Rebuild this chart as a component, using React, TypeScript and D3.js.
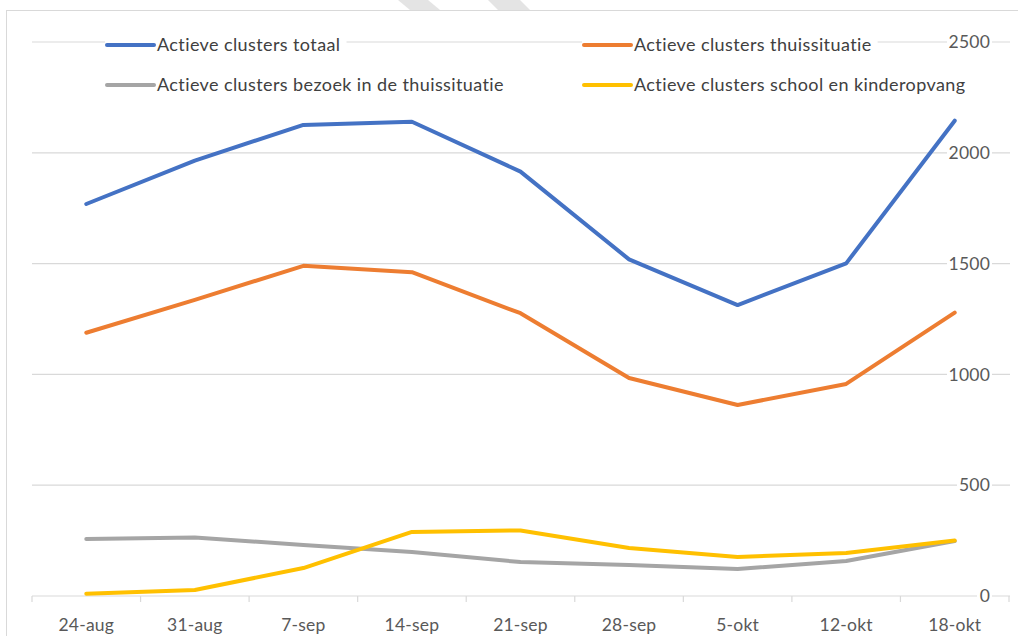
import React, { useEffect, useRef } from 'react';
import * as d3 from 'd3';

const weeks = ['24-aug', '31-aug', '7-sep', '14-sep', '21-sep', '28-sep', '5-okt', '12-okt', '18-okt'];
const totaal = [1769, 1965, 2126, 2140, 1915, 1519, 1313, 1501, 2145];
const thuis = [1188, 1336, 1490, 1461, 1276, 984, 862, 957, 1279];
const bezoek = [257, 264, 230, 199, 153, 140, 122, 158, 248];
const school = [10, 27, 126, 289, 296, 217, 176, 194, 250];
const yTicks = [0, 500, 1000, 1500, 2000, 2500];

const series = [
  { name: 'Actieve clusters totaal', values: totaal, color: '#4472c4' },
  { name: 'Actieve clusters thuissituatie', values: thuis, color: '#ed7d31' },
  { name: 'Actieve clusters bezoek in de thuissituatie', values: bezoek, color: '#a5a5a5' },
  { name: 'Actieve clusters school en kinderopvang', values: school, color: '#ffc000' },
];

export default function App() {
  const svgRef = useRef<SVGSVGElement>(null);

  useEffect(() => {
    if (!svgRef.current) return;
    const svg = d3.select(svgRef.current);
    svg.selectAll('*').remove();

    const width = 1018;
    const height = 636;
    const font = 'Lato, "Open Sans", sans-serif';

    const x = d3.scaleBand<string>().domain(weeks).range([32, 1009]);
    const y = d3.scaleLinear().domain([0, 2500]).range([596, 42]);

    svg.append('rect').attr('width', width).attr('height', height).attr('fill', '#fff');

    // watermark remnants above the chart frame
    svg.append('polygon').attr('points', '398,0 428,0 440,10 410,10').attr('fill', '#e4e4e4');
    svg.append('polygon').attr('points', '488,0 520,0 530,10 498,10').attr('fill', '#e4e4e4');

    // chart frame
    svg.append('rect')
      .attr('x', 6.5).attr('y', 10.5).attr('width', 1040).attr('height', 660)
      .attr('fill', '#fff').attr('stroke', '#d9d9d9');

    // gridlines
    svg.append('g').selectAll('line')
      .data(yTicks.filter(t => t > 0))
      .join('line')
      .attr('x1', 32).attr('x2', 1010)
      .attr('y1', d => y(d)).attr('y2', d => y(d))
      .attr('stroke', '#d9d9d9').attr('stroke-width', 1.2);

    // x axis
    const xAxis = svg.append('g').attr('transform', `translate(0,${y(0)})`);
    xAxis.append('line').attr('x1', 32).attr('x2', 1010).attr('stroke', '#d9d9d9').attr('stroke-width', 1.2);
    const bounds = weeks.map(w => x(w)!).concat([x.range()[1]]);
    xAxis.selectAll('line.tick').data(bounds).join('line')
      .attr('class', 'tick')
      .attr('x1', d => d).attr('x2', d => d).attr('y1', 0).attr('y2', 6)
      .attr('stroke', '#d9d9d9').attr('stroke-width', 1.2);
    xAxis.selectAll('text').data(weeks).join('text')
      .attr('x', d => x(d)! + x.bandwidth() / 2)
      .attr('y', 35)
      .attr('text-anchor', 'middle')
      .attr('font-family', font).attr('font-size', 17.5).attr('letter-spacing', 0.2).attr('fill', '#595959')
      .text(d => d);

    // right y axis labels with white backing
    const yl = svg.append('g').selectAll('g').data(yTicks).join('g')
      .attr('transform', d => `translate(990,${y(d)})`);
    yl.append('rect').attr('x', d => -(String(d).length * 10) - 3).attr('y', -9)
      .attr('width', d => String(d).length * 10 + 5).attr('height', 18).attr('fill', '#fff');
    yl.append('text')
      .attr('text-anchor', 'end').attr('dy', '0.35em')
      .attr('font-family', font).attr('font-size', 17.5).attr('letter-spacing', 0.2).attr('fill', '#595959')
      .text(d => d);

    // lines
    const line = d3.line<number>()
      .x((_, i) => x(weeks[i])! + x.bandwidth() / 2)
      .y(d => y(d));
    svg.append('g').selectAll('path').data(series).join('path')
      .attr('fill', 'none')
      .attr('stroke', d => d.color)
      .attr('stroke-width', 4)
      .attr('stroke-linejoin', 'round')
      .attr('stroke-linecap', 'round')
      .attr('d', d => line(d.values));

    // legend
    const legendPos = [[107, 45], [584, 45], [107, 85], [584, 85]];
    const lg = svg.append('g').selectAll('g').data(series).join('g')
      .attr('transform', (_, i) => `translate(${legendPos[i][0]},${legendPos[i][1]})`);
    const bg = lg.append('rect').attr('x', -2).attr('y', -11).attr('height', 22).attr('fill', '#fff');
    lg.append('line').attr('x1', 0).attr('x2', 47).attr('y1', 0).attr('y2', 0)
      .attr('stroke', d => d.color).attr('stroke-width', 4).attr('stroke-linecap', 'round');
    const txt = lg.append('text').attr('x', 50).attr('dy', '0.35em')
      .attr('font-family', font).attr('font-size', 18).attr('letter-spacing', 0.4).attr('fill', '#404040')
      .text(d => d.name);
    txt.each(function (_, i) {
      const w = (this as SVGTextElement).getComputedTextLength();
      d3.select(bg.nodes()[i]).attr('width', w + 58);
    });
  }, []);

  return (
    <div style={{ position: 'absolute', left: 0, top: 0 }}>
      <svg ref={svgRef} width={1018} height={636} style={{ display: 'block' }} />
    </div>
  );
}
